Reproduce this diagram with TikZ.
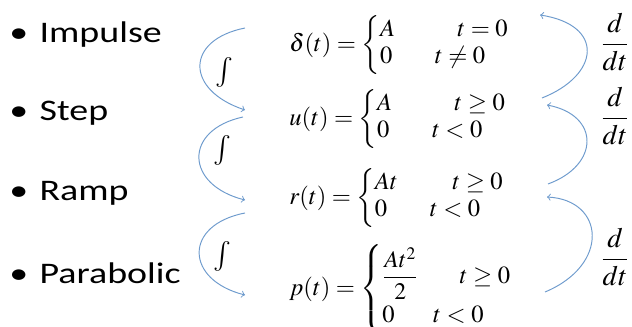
\documentclass[tikz,border=0pt]{standalone}
\usepackage{mathptmx}
\usepackage{fontspec}
\newfontfamily\labelfont{Carlito}
\usetikzlibrary{positioning}

\definecolor{arrowblue}{RGB}{110,155,205}
\newcommand{\signame}[1]{\scalebox{1.27}[1]{\textbullet\hspace{0.3em}#1}}

\begin{document}
\begin{tikzpicture}[
  x=0.02cm, y=-0.02cm,
  sigtext/.style={anchor=west, inner sep=0pt, font=\labelfont\fontsize{17}{21}\selectfont},
  sigeq/.style={anchor=west, inner sep=0pt, font=\fontsize{14}{15.2}\selectfont},
  intlabel/.style={inner sep=0pt, font=\fontsize{17}{20}\selectfont},
  difflabel/.style={inner sep=0pt, font=\fontsize{16}{19}\selectfont},
  curvearrow/.style={->, arrowblue, line width=0.55pt}
]
\useasboundingbox (0,0) rectangle (632,327);

% Left column: signal names
\node[sigtext] (imp)  at (9,35)  {\signame{Impulse}};
\node[sigtext] (stp)  at (9,113) {\signame{Step}};
\node[sigtext] (rmp)  at (9,193) {\signame{Ramp}};
\node[sigtext] (par)  at (9,273) {\signame{Parabolic}};

% Middle: definitions
\node[sigeq] (eqimp) at (289,45) {$\delta(t)=\left\{\begin{array}{@{}l@{}}
  \makebox[1.55cm][l]{$A$}t=0\\
  \makebox[1.1cm][l]{$0$}t\neq 0
\end{array}\right.$};
\node[sigeq] (eqstp) at (289,119) {$u(t)=\left\{\begin{array}{@{}l@{}}
  \makebox[1.55cm][l]{$A$}t\geq 0\\
  \makebox[1.1cm][l]{$0$}t<0
\end{array}\right.$};
\node[sigeq] (eqrmp) at (289,198) {$r(t)=\left\{\begin{array}{@{}l@{}}
  \makebox[1.55cm][l]{$At$}t\geq 0\\
  \makebox[1.1cm][l]{$0$}t<0
\end{array}\right.$};
\node[sigeq] (eqpar) at (289,289) {$p(t)=\left\{\begin{array}{@{}l@{}}
  \makebox[1.55cm][l]{\fontsize{13.5}{15}\selectfont$\displaystyle\frac{At^2}{2}$}t\geq 0\\[7pt]
  \makebox[1.02cm][l]{$0$}t<0
\end{array}\right.$};

% Integral labels
\node[intlabel] (int1) at (224,72)  {$\int$};
\node[intlabel] (int2) at (222,150) {$\int$};
\node[intlabel] (int3) at (222,256) {$\int$};

% Derivative labels
\node[difflabel] (dif1) at (615,42)  {$\displaystyle\frac{d}{dt}$};
\node[difflabel] (dif2) at (615,116) {$\displaystyle\frac{d}{dt}$};
\node[difflabel] (dif3) at (615,257) {$\displaystyle\frac{d}{dt}$};

% Arrow ends
\coordinate (l1a) at (245,28);  \coordinate (l1b) at (245,110);
\coordinate (l2a) at (243,117); \coordinate (l2b) at (245,200);
\coordinate (l3a) at (245,213); \coordinate (l3b) at (245,295);
\coordinate (r1a) at (542,98);  \coordinate (r1b) at (540,15);
\coordinate (r2a) at (548,184); \coordinate (r2b) at (547,105);
\coordinate (r3a) at (545,292); \coordinate (r3b) at (547,197);

% Integration arrows (downwards)
\draw[curvearrow] (l1a) .. controls (185,40) and (185,90) .. (l1b);
\draw[curvearrow] (l2a) .. controls (183,130) and (185,185) .. (l2b);
\draw[curvearrow] (l3a) .. controls (183,225) and (185,280) .. (l3b);

% Differentiation arrows (upwards)
\draw[curvearrow] (r1a) .. controls (600,75) and (605,25) .. (r1b);
\draw[curvearrow] (r2a) .. controls (600,165) and (600,115) .. (r2b);
\draw[curvearrow] (r3a) .. controls (610,265) and (605,200) .. (r3b);

\end{tikzpicture}
\end{document}
